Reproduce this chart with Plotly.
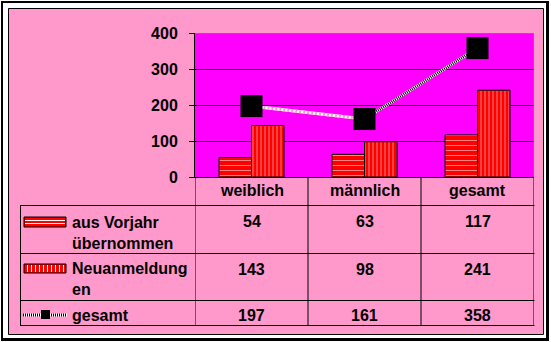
import plotly.graph_objects as go

W, H = 551, 342

categories = ["weiblich", "männlich", "gesamt"]
aus_vorjahr = [54, 63, 117]
neuanmeldungen = [143, 98, 241]
gesamt = [197, 161, 358]
series_labels = ["aus Vorjahr<br>übernommen", "Neuanmeldung<br>en", "gesamt"]
y_ticks = [0, 100, 200, 300, 400]

PINK = "#FF99CC"
MAGENTA = "#FF00FF"
RED = "#FF0000"
FONT = dict(family="Liberation Sans, Arial, sans-serif", size=16, color="black", weight="bold")


def px(x):
    return x / W


def py(y):
    return 1 - y / H


fig = go.Figure()

fig.add_trace(go.Bar(
    x=categories, y=aus_vorjahr,
    marker=dict(color=RED, line=dict(color="black", width=1),
                pattern=dict(shape="-", fgcolor="white", bgcolor=RED, size=5, solidity=0.2)),
))
fig.add_trace(go.Bar(
    x=categories, y=neuanmeldungen,
    marker=dict(color=RED, line=dict(color="black", width=1),
                pattern=dict(shape="|", fgcolor="white", bgcolor=RED, size=4, solidity=0.25)),
))

# line segments (first segment light, second black/white checkered look)
fig.add_trace(go.Scatter(x=categories[0:2], y=gesamt[0:2], mode="lines",
                         line=dict(color="white", width=3)))
fig.add_trace(go.Scatter(x=categories[0:2], y=gesamt[0:2], mode="lines",
                         line=dict(color=PINK, width=3, dash="2px,2px")))
fig.add_trace(go.Scatter(x=categories[1:3], y=gesamt[1:3], mode="lines",
                         line=dict(color="white", width=3)))
fig.add_trace(go.Scatter(x=categories[1:3], y=gesamt[1:3], mode="lines",
                         line=dict(color="black", width=3, dash="1px,1px")))
fig.add_trace(go.Scatter(x=categories, y=gesamt, mode="markers",
                         marker=dict(symbol="square", size=22, color="black",
                                     line=dict(width=0))))

shapes = []
# outer white ring
for (x0, y0, x1, y1) in [(0, 0, W, 8), (0, 335, W, H), (0, 0, 8, H), (543, 0, W, H)]:
    shapes.append(dict(type="rect", xref="paper", yref="paper", x0=px(x0), x1=px(x1),
                       y0=py(y1), y1=py(y0), fillcolor="white", line=dict(width=0), layer="above"))
# thick black frame
for (x0, y0, x1, y1) in [(1, 1, 549, 3), (1, 1, 3, 341), (546, 1, 549, 341), (1, 338, 549, 341)]:
    shapes.append(dict(type="rect", xref="paper", yref="paper", x0=px(x0), x1=px(x1),
                       y0=py(y1), y1=py(y0), fillcolor="black", line=dict(width=0), layer="above"))
# thin chart area border
shapes.append(dict(type="rect", xref="paper", yref="paper", x0=px(8.5), x1=px(543.5),
                   y0=py(334.5), y1=py(8.5), line=dict(color="black", width=1), layer="above"))
# plot area top/right gray border
shapes.append(dict(type="line", xref="x", yref="y", x0=-0.5, x1=2.5, y0=400, y1=400,
                   line=dict(color="#808080", width=1), layer="above"))
shapes.append(dict(type="line", xref="x", yref="y", x0=2.5, x1=2.5, y0=0, y1=400,
                   line=dict(color="#808080", width=1), layer="above"))

# table lines
for yy in [205.5, 253.5, 300.5, 325.5]:
    shapes.append(dict(type="line", xref="paper", yref="paper", x0=px(20), x1=px(534.5),
                       y0=py(yy), y1=py(yy), line=dict(color="black", width=1), layer="above"))
shapes.append(dict(type="line", xref="paper", yref="paper", x0=px(20.5), x1=px(20.5),
                   y0=py(205.5), y1=py(325.5), line=dict(color="black", width=1), layer="above"))
for i in range(len(categories) + 1):
    xx = -0.5 + i
    shapes.append(dict(type="line", xref="x", yref="paper", x0=xx, x1=xx,
                       y0=py(177), y1=py(325.5), line=dict(color="black", width=1), layer="above"))

# legend keys
k1 = (24, 217, 66, 227)
shapes.append(dict(type="rect", xref="paper", yref="paper", x0=px(k1[0]), x1=px(k1[2]),
                   y0=py(k1[3]), y1=py(k1[1]), fillcolor=RED, line=dict(color="black", width=1),
                   layer="above"))
for yy in [220.5, 223.5]:
    shapes.append(dict(type="line", xref="paper", yref="paper", x0=px(k1[0] + 1), x1=px(k1[2] - 1),
                       y0=py(yy), y1=py(yy), line=dict(color="white", width=1), layer="above"))
k2 = (24, 264, 66, 273)
shapes.append(dict(type="rect", xref="paper", yref="paper", x0=px(k2[0]), x1=px(k2[2]),
                   y0=py(k2[3]), y1=py(k2[1]), fillcolor=RED, line=dict(color="black", width=1),
                   layer="above"))
xx = k2[0] + 3.5
while xx < k2[2] - 1:
    shapes.append(dict(type="line", xref="paper", yref="paper", x0=px(xx), x1=px(xx),
                       y0=py(k2[3] - 1), y1=py(k2[1] + 1), line=dict(color="white", width=1),
                       layer="above"))
    xx += 4
shapes.append(dict(type="line", xref="paper", yref="paper", x0=px(23), x1=px(67),
                   y0=py(315), y1=py(315), line=dict(color="white", width=3), layer="above"))
shapes.append(dict(type="line", xref="paper", yref="paper", x0=px(23), x1=px(67),
                   y0=py(315), y1=py(315), line=dict(color="black", width=3, dash="1px,1px"),
                   layer="above"))
shapes.append(dict(type="rect", xref="paper", yref="paper", x0=px(41), x1=px(50),
                   y0=py(319), y1=py(310), fillcolor="black", line=dict(width=0), layer="above"))

annotations = []
for c in categories:
    annotations.append(dict(x=c, xref="x", y=py(190), yref="paper", text=c, showarrow=False,
                            xanchor="center", yanchor="middle", font=FONT))
row_y = [221.5, 269, 315.5]
label_y = [232.5, 279, 315.5]
rows = [aus_vorjahr, neuanmeldungen, gesamt]
for r, vals in enumerate(rows):
    for c, v in zip(categories, vals):
        annotations.append(dict(x=c, xref="x", y=py(row_y[r]), yref="paper", text=str(v),
                                showarrow=False, xanchor="center", yanchor="middle", font=FONT))
    annotations.append(dict(x=px(70), xref="paper", y=py(label_y[r]), yref="paper",
                            text=series_labels[r], showarrow=False, xanchor="left",
                            yanchor="middle", align="left", font=FONT))

fig.update_layout(
    width=W, height=H,
    margin=dict(l=0, r=0, t=0, b=0),
    paper_bgcolor=PINK, plot_bgcolor=MAGENTA,
    barmode="group", bargap=0.425, bargroupgap=0,
    showlegend=False, hovermode=False,
    shapes=shapes, annotations=annotations,
    xaxis=dict(domain=[px(195), px(534)], type="category", range=[-0.5, 2.5],
               showticklabels=False, ticks="", showgrid=False, showline=True,
               linecolor="black", linewidth=1, zeroline=False, automargin=False, fixedrange=True),
    yaxis=dict(domain=[py(177), py(33)], range=[0, 400], tickvals=y_ticks,
               showgrid=True, gridcolor="black", gridwidth=1, showline=True,
               linecolor="black", linewidth=1, ticks="outside", ticklen=5, tickcolor="black",
               tickfont=FONT, ticklabelstandoff=8, zeroline=False, automargin=False,
               fixedrange=True),
)

fig.write_html("out.html")
